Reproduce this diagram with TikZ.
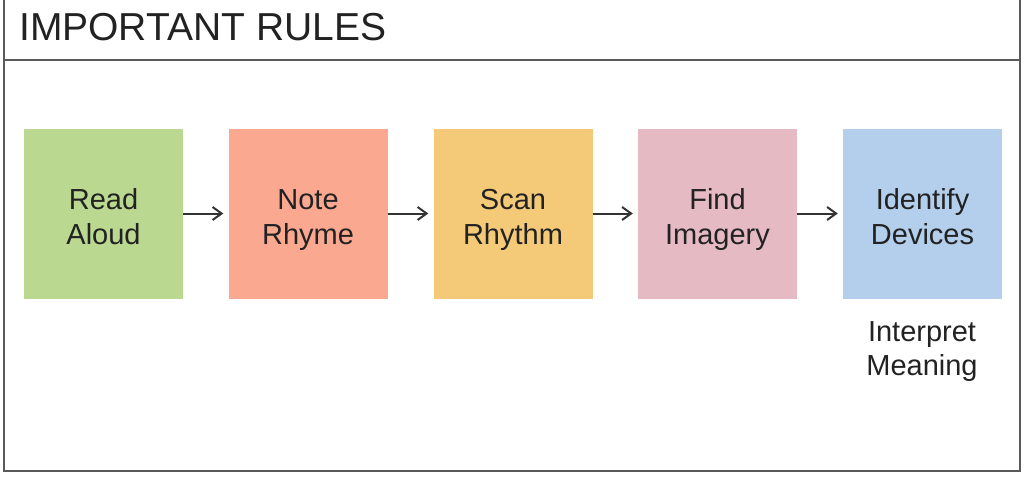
\documentclass[tikz,border=0pt]{standalone}
\usepackage{fontspec}
\setmainfont{Liberation Sans}
\usetikzlibrary{arrows.meta}
\definecolor{framegray}{HTML}{5A5A5A}
\definecolor{txt}{HTML}{222222}
\definecolor{arrowgray}{HTML}{333333}
\definecolor{cgreen}{HTML}{BAD890}
\definecolor{cred}{HTML}{FBA891}
\definecolor{cyellow}{HTML}{F4CA78}
\definecolor{cpink}{HTML}{E6BAC3}
\definecolor{cblue}{HTML}{B3CFEC}
\newcommand{\twolines}[2]{\rule{0pt}{37.5pt}#1\\#2\strut}
\tikzset{
  stepbox/.style={draw=none, minimum width=159pt, minimum height=170pt, inner sep=0pt,
    align=center, text=txt, font=\fontsize{29}{35}\selectfont},
  frameline/.style={draw=framegray, line width=2pt},
  flow/.style={draw=arrowgray, line width=2pt, -{Straight Barb[length=9pt,width=13pt,line width=2pt]}, shorten >=5pt},
  plainlabel/.style={align=center, text=txt, font=\fontsize{29}{34}\selectfont, inner sep=0pt}
}
\begin{document}
\begin{tikzpicture}[x=1pt,y=-1pt]
\useasboundingbox (0,0) rectangle (1024,479);
% frame
\coordinate (tl) at (4,0);
\coordinate (tr) at (1020,0);
\coordinate (bl) at (4,471);
\coordinate (br) at (1020,471);
\coordinate (sl) at (4,60);
\coordinate (sr) at (1020,60);
\draw[frameline] (tl) -- (bl) -- (br) -- (tr);
\draw[frameline] (sl) -- (sr);
% title
\node[anchor=base west, inner sep=0pt, text=txt, font=\fontsize{39}{45}\selectfont] (title) at (19,40) {IMPORTANT RULES};
% boxes
\node[stepbox, fill=cgreen] (b1) at (103.5,213.5) {\twolines{Read}{Aloud}};
\node[stepbox, fill=cred] (b2) at (308,213.5) {\twolines{Note}{Rhyme}};
\node[stepbox, fill=cyellow] (b3) at (513,213.5) {\twolines{Scan}{Rhythm}};
\node[stepbox, fill=cpink] (b4) at (717.5,213.5) {\twolines{Find}{Imagery}};
\node[stepbox, fill=cblue] (b5) at (922.5,213.5) {\twolines{Identify}{Devices}};
% arrows
\draw[flow] (b1) -- (b2);
\draw[flow] (b2) -- (b3);
\draw[flow] (b3) -- (b4);
\draw[flow] (b4) -- (b5);
% label below
\node[plainlabel] (interp) at (922,352) {Interpret\\Meaning};
\end{tikzpicture}
\end{document}
